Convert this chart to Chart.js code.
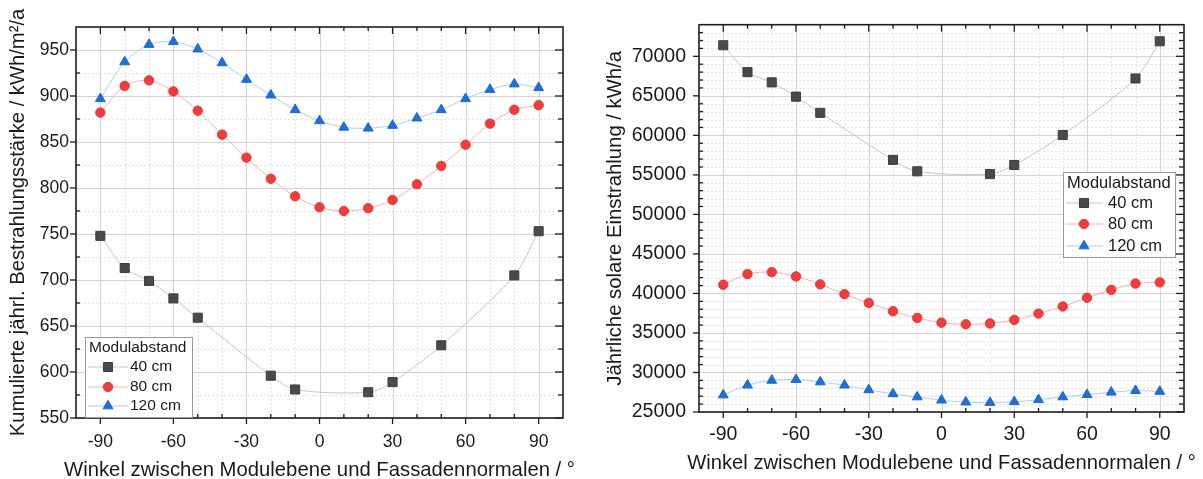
<!DOCTYPE html>
<html>
<head>
<meta charset="utf-8">
<script src="https://cdn.jsdelivr.net/npm/chart.js@4.4.1/dist/chart.umd.min.js"></script>
<style>
    html, body { margin: 0; padding: 0; background: #fff; }
    #wrap { position: relative; width: 1203px; height: 479px; }
    canvas { position: absolute; top: 0; }
</style>
</head>
<body>
<div id="wrap">
    <canvas id="irrChart" width="595" height="479" style="left:0"></canvas>
    <canvas id="annChart" width="603" height="479" style="left:600px"></canvas>
</div>
<script>
// Winkel (x) fuer alle Reihen, 40 cm hat Luecken
const angles = [-90, -80, -70, -60, -50, -40, -30, -20, -10, 0, 10, 20, 30, 40, 50, 60, 70, 80, 90];
const angles40 = [-90, -80, -70, -60, -50, -20, -10, 20, 30, 50, 80, 90];
const xTicks = [-90, -60, -30, 0, 30, 60, 90];

// Linkes Diagramm: kumulierte Bestrahlungsstaerke / kWh/m²/a
const irr40 = [748, 713, 699, 680, 659, 596, 581, 578, 589, 629, 705, 753];
const irr80 = [882, 911, 917, 905, 884, 858, 833, 810, 791, 779, 775, 778, 787, 804, 824, 847, 870, 885, 890];
const irr120 = [897, 937, 956, 959, 951, 936, 918, 901, 885, 873, 866, 865, 868, 876, 885, 897, 907, 913, 909];
const irrTicks = [550, 600, 650, 700, 750, 800, 850, 900, 950];

// Rechtes Diagramm: jaehrliche solare Einstrahlung / kWh/a
const ann40 = [71400, 68000, 66700, 64900, 62850, 56900, 55450, 55100, 56250, 60050, 67200, 71900];
const ann80 = [41100, 42450, 42700, 42150, 41150, 39900, 38800, 37750, 36900, 36300, 36100, 36200, 36650, 37450, 38350, 39450, 40450, 41250, 41400];
const ann120 = [27150, 28400, 29000, 29100, 28800, 28400, 27800, 27300, 26900, 26500, 26250, 26200, 26300, 26550, 26900, 27200, 27500, 27700, 27600];
const annTicks = [25000, 30000, 35000, 40000, 45000, 50000, 55000, 60000, 65000, 70000];

const seriesLabels = ['40 cm', '80 cm', '120 cm'];
const xTitle = 'Winkel zwischen Modulebene und Fassadennormalen / °';

const FONT = "'Liberation Sans', Arial, sans-serif";

function pts(xs, ys) {
    return xs.map(function (x, i) { return { x: x, y: ys[i] }; });
}

function range(from, to, step) {
    const out = [];
    for (let v = from; v <= to + 1e-9; v += step) out.push(v);
    return out;
}

function makeDatasets(d40, d80, d120) {
    return [
        {
            label: seriesLabels[0], data: pts(angles40, d40),
            borderColor: '#c4c4c4', backgroundColor: '#4a4a4a', pointBorderColor: '#3c3c3c',
            pointStyle: 'rect', pointRadius: 6.4, borderWidth: 1, pointBorderWidth: 1, tension: 0.3
        },
        {
            label: seriesLabels[1], data: pts(angles, d80),
            borderColor: '#f8b0b0', backgroundColor: '#ef3d3d', pointBorderColor: '#ea3535',
            pointStyle: 'circle', pointRadius: 4.7, borderWidth: 1, pointBorderWidth: 1, tension: 0.3
        },
        {
            label: seriesLabels[2], data: pts(angles, d120),
            borderColor: '#acccf2', backgroundColor: '#1f6fd8', pointBorderColor: '#1a68d0',
            pointStyle: 'triangle', pointRadius: 5.7, borderWidth: 1, pointBorderWidth: 1, tension: 0.3
        }
    ];
}

// Gitter, Rahmen mit Ticks, x-Titel und Legende im Origin-Stil
const framePlugin = {
    id: 'frame',
    beforeDatasetsDraw(chart, args, o) {
        const ctx = chart.ctx, a = chart.chartArea;
        const x = chart.scales.x, y = chart.scales.y;
        ctx.save();
        ctx.lineWidth = 1;
        ctx.strokeStyle = '#e3e3e3';
        ctx.setLineDash([2, 2]);
        o.xMinor.forEach(function (v) {
            const px = Math.round(x.getPixelForValue(v)) + 0.5;
            ctx.beginPath(); ctx.moveTo(px, a.top); ctx.lineTo(px, a.bottom); ctx.stroke();
        });
        o.yMinor.forEach(function (v) {
            const py = Math.round(y.getPixelForValue(v)) + 0.5;
            ctx.beginPath(); ctx.moveTo(a.left, py); ctx.lineTo(a.right, py); ctx.stroke();
        });
        ctx.setLineDash([]);
        ctx.strokeStyle = '#d4d4d4';
        o.xMajor.forEach(function (v) {
            const px = Math.round(x.getPixelForValue(v)) + 0.5;
            ctx.beginPath(); ctx.moveTo(px, a.top); ctx.lineTo(px, a.bottom); ctx.stroke();
        });
        o.yMajor.forEach(function (v) {
            const py = Math.round(y.getPixelForValue(v)) + 0.5;
            ctx.beginPath(); ctx.moveTo(a.left, py); ctx.lineTo(a.right, py); ctx.stroke();
        });
        ctx.restore();
    },
    afterDraw(chart, args, o) {
        const ctx = chart.ctx, a = chart.chartArea;
        const x = chart.scales.x, y = chart.scales.y;
        ctx.save();
        ctx.strokeStyle = '#1e1e1e';
        ctx.lineWidth = 1.6;
        ctx.strokeRect(a.left, a.top, a.right - a.left, a.bottom - a.top);
        ctx.lineWidth = 1.3;
        function seg(x0, y0, x1, y1) {
            ctx.beginPath(); ctx.moveTo(x0, y0); ctx.lineTo(x1, y1); ctx.stroke();
        }
        o.xMajor.forEach(function (v) {
            const px = x.getPixelForValue(v);
            seg(px, a.bottom, px, a.bottom + 6);
            seg(px, a.top, px, a.top + 7);
        });
        o.xMinor.forEach(function (v) {
            const px = x.getPixelForValue(v);
            seg(px, a.bottom, px, a.bottom - 4);
            seg(px, a.top, px, a.top + 4);
        });
        o.yMajor.forEach(function (v) {
            const py = y.getPixelForValue(v);
            seg(a.left - 6, py, a.left, py);
            seg(a.right - 8, py, a.right, py);
        });
        o.yMinor.forEach(function (v) {
            const py = y.getPixelForValue(v);
            seg(a.left, py, a.left + 4, py);
            seg(a.right - 5, py, a.right, py);
        });

        // x-Achsentitel (ohne Stauchung auf die Achsenbreite)
        ctx.fillStyle = '#1a1a1a';
        ctx.font = o.xTitleSize + 'px ' + FONT;
        ctx.textAlign = 'center';
        ctx.textBaseline = 'middle';
        ctx.fillText(xTitle, (a.left + a.right) / 2, o.xTitleY);

        // Legende
        const L = o.legend;
        ctx.fillStyle = '#fff';
        ctx.fillRect(L.x, L.y, L.w, L.h);
        ctx.lineWidth = 1;
        ctx.strokeStyle = '#9a9a9a';
        ctx.strokeRect(L.x + 0.5, L.y + 0.5, L.w, L.h);
        ctx.fillStyle = '#1a1a1a';
        ctx.font = L.size + 'px ' + FONT;
        ctx.textAlign = 'left';
        ctx.fillText('Modulabstand', L.titleX, L.titleY);
        chart.data.datasets.forEach(function (ds, i) {
            const ry = L.rows[i];
            ctx.strokeStyle = ds.borderColor;
            ctx.lineWidth = 1;
            seg(L.lineX0, ry, L.lineX1, ry);
            ctx.fillStyle = ds.backgroundColor;
            ctx.strokeStyle = ds.pointBorderColor;
            Chart.helpers.drawPoint(ctx, { pointStyle: ds.pointStyle, rotation: 0, radius: ds.pointRadius, borderWidth: 1 }, L.markX, ry);
            ctx.fillStyle = '#1a1a1a';
            ctx.fillText(ds.label, L.textX, ry);
        });
        ctx.restore();
    }
};

function makeOptions(cfg) {
    return {
        responsive: false,
        animation: false,
        devicePixelRatio: 1,
        layout: { padding: { left: 0, top: cfg.top, right: cfg.right, bottom: 0 } },
        scales: {
            x: {
                type: 'linear', min: -100, max: 100,
                afterBuildTicks: function (s) { s.ticks = xTicks.map(function (v) { return { value: v }; }); },
                afterFit: function (s) { s.height = cfg.xHeight; },
                grid: { display: false, drawTicks: false },
                border: { display: false },
                ticks: {
                    color: '#1a1a1a', padding: cfg.xTickPad, maxRotation: 0, font: { family: FONT, size: cfg.tickSize },
                    callback: function (v) { return String(v); }
                },
                title: { display: false }
            },
            y: {
                type: 'linear', min: cfg.yMin, max: cfg.yMax,
                afterBuildTicks: function (s) { s.ticks = cfg.yTicks.map(function (v) { return { value: v }; }); },
                afterFit: function (s) { s.width = cfg.yWidth; },
                grid: { display: false, drawTicks: false },
                border: { display: false },
                ticks: {
                    color: '#1a1a1a', padding: cfg.yTickPad, font: { family: FONT, size: cfg.tickSize },
                    callback: function (v) { return String(v); }
                },
                title: {
                    display: true, text: cfg.yTitle, color: '#1a1a1a',
                    font: { family: FONT, size: cfg.yTitleSize, lineHeight: 1.2 }, padding: { top: cfg.yTitlePad, bottom: 0 }
                }
            }
        },
        plugins: {
            legend: { display: false },
            tooltip: { enabled: false },
            frame: {
                xMajor: xTicks,
                xMinor: range(-90, 90, 10).filter(function (v) { return xTicks.indexOf(v) < 0; }),
                yMajor: cfg.yTicks,
                yMinor: range(cfg.yMin, cfg.yMax, cfg.yMinorStep).filter(function (v) { return cfg.yTicks.indexOf(v) < 0 && v < cfg.yMax; }),
                xTitleSize: cfg.xTitleSize,
                xTitleY: cfg.xTitleY,
                legend: cfg.legend
            }
        }
    };
}

new Chart(document.getElementById('irrChart').getContext('2d'), {
    type: 'line',
    data: { datasets: makeDatasets(irr40, irr80, irr120) },
    options: makeOptions({
        top: 27, right: 32, xHeight: 61, yWidth: 76,
        yMin: 550, yMax: 975, yTicks: irrTicks, yMinorStep: 25,
        tickSize: 17.5, xTitleSize: 20.3, xTitleY: 470, yTitleSize: 20.2, xTickPad: 14, yTickPad: 7, yTitlePad: 6,
        yTitle: 'Kumulierte jährl. Bestrahlungsstärke / kWh/m²/a',
        legend: {
            x: 85, y: 337, w: 107, h: 80, size: 15.5,
            titleX: 89, titleY: 348, rows: [367, 387, 406],
            lineX0: 88, lineX1: 128, markX: 108, textX: 130
        }
    }),
    plugins: [framePlugin]
});

new Chart(document.getElementById('annChart').getContext('2d'), {
    type: 'line',
    data: { datasets: makeDatasets(ann40, ann80, ann120) },
    options: makeOptions({
        top: 22, right: 19, xHeight: 67, yWidth: 99,
        yMin: 25000, yMax: 74000, yTicks: annTicks, yMinorStep: 1000,
        tickSize: 19.5, xTitleSize: 20.2, xTitleY: 463, yTitleSize: 20.3, xTickPad: 11, yTickPad: 13, yTitlePad: 3,
        yTitle: 'Jährliche solare Einstrahlung / kWh/a',
        legend: {
            x: 463, y: 172, w: 112, h: 85, size: 16.5,
            titleX: 467, titleY: 183, rows: [203, 224, 246],
            lineX0: 466, lineX1: 503, markX: 484, textX: 508
        }
    }),
    plugins: [framePlugin]
});
</script>
</body>
</html>
